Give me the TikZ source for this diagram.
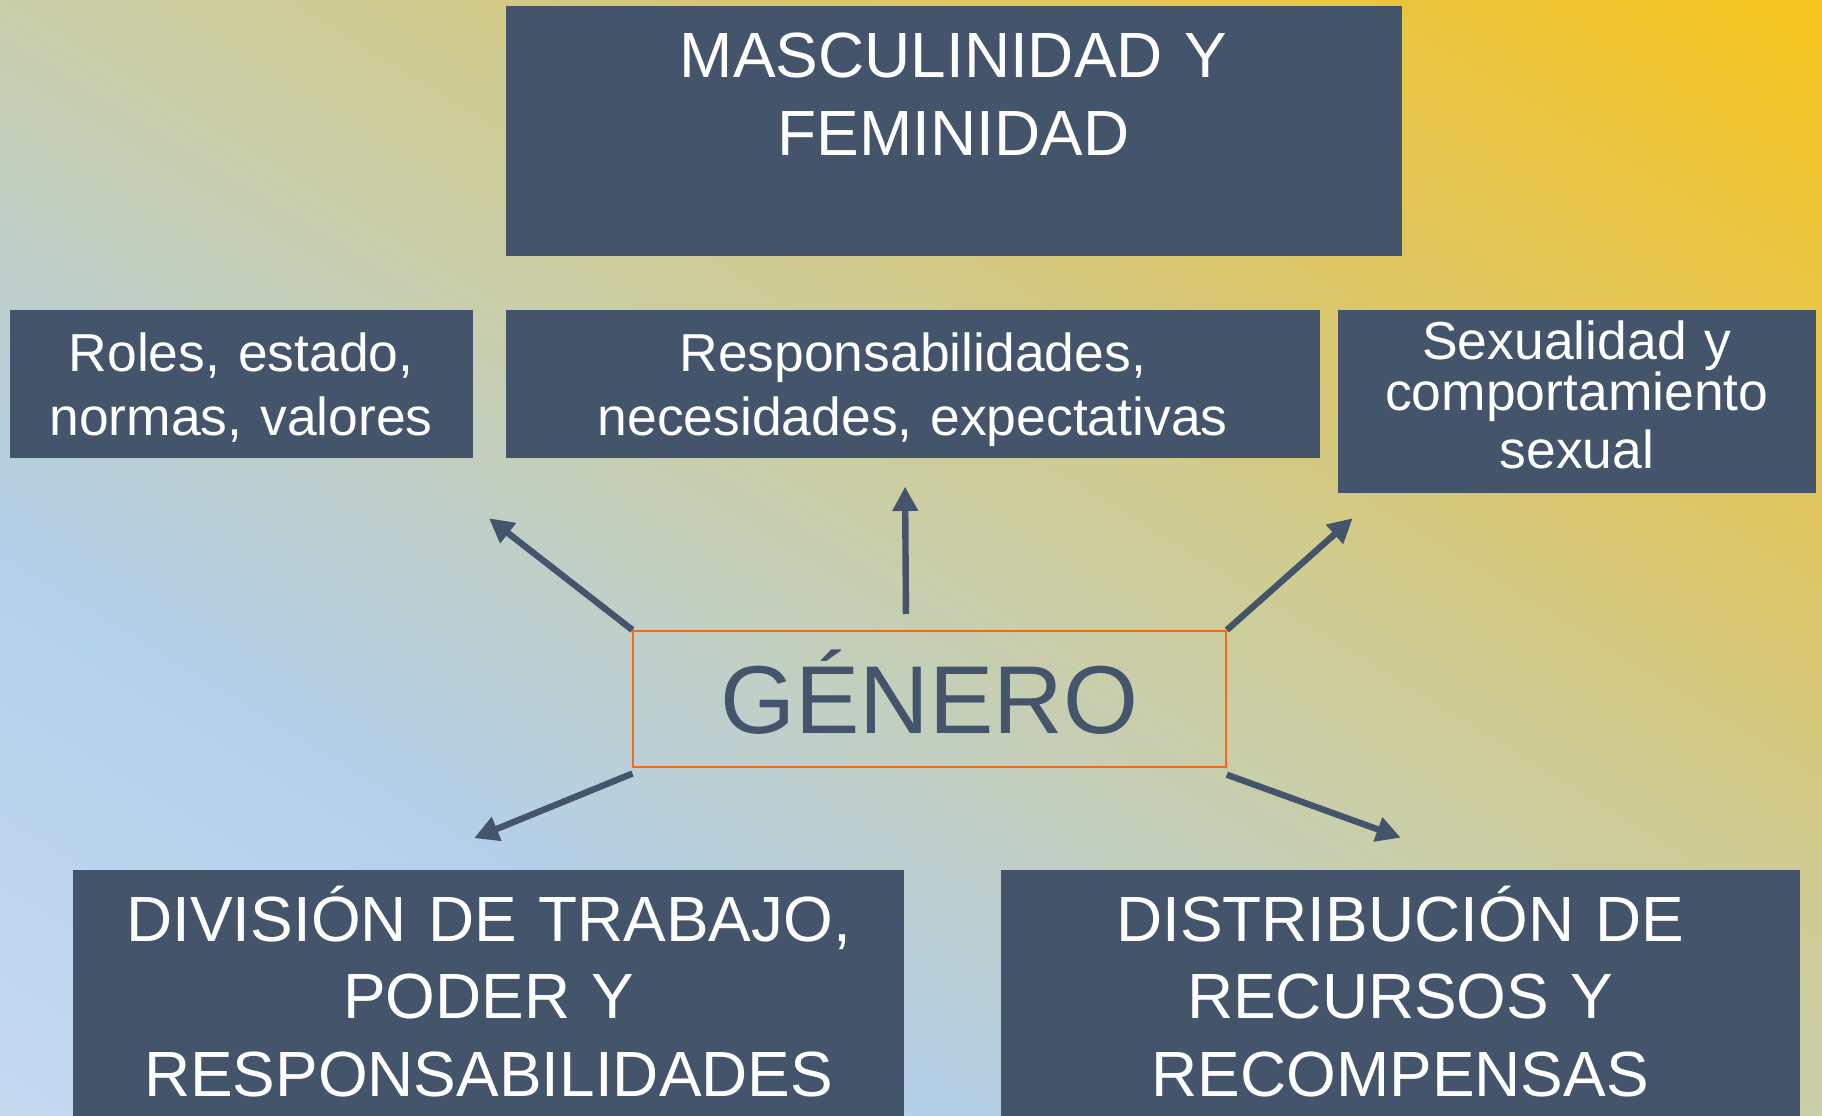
\documentclass[tikz,border=0pt]{standalone}
\usepackage{fontspec}
\setmainfont{Liberation Sans}
\usetikzlibrary{arrows.meta}
\definecolor{boxc}{HTML}{44546A}
\definecolor{orng}{HTML}{F26B16}
\definecolor{bgA}{HTML}{C6DAF0}
\definecolor{bgB}{HTML}{B3D0EA}
\definecolor{bgC}{HTML}{BECFCC}
\definecolor{bgD}{HTML}{C9CEAA}
\definecolor{bgE}{HTML}{D0CB8F}
\definecolor{bgF}{HTML}{DEC664}
\definecolor{bgG}{HTML}{F5C31A}
% background strips between two colours along the gradient axis
\newcommand\bgseg[4]{%
  \foreach \k in {0,...,23}{%
    \pgfmathsetmacro\pa{#1+(#2-#1)*\k/24}%
    \pgfmathsetmacro\pb{#1+(#2-#1)*(\k+1)/24+0.8}%
    \pgfmathsetmacro\mx{100-100*(\k+0.5)/24}%
    \fill[#3!\mx!#4] (\pa,-2500) rectangle (\pb,2500);
  }%
}
\tikzset{
  box/.style={fill=boxc, draw=none, inner sep=0pt, anchor=north west},
  wtxt/.style={text=white, inner sep=0pt, anchor=base, align=center},
  fbig/.style={font=\fontsize{55}{66.5}\selectfont},
  fmid/.style={font=\fontsize{46}{55.7}\selectfont},
  arr/.style={draw=boxc, line width=5.5pt, -{Triangle[length=21pt,width=21pt]}},
}
\begin{document}
\begin{tikzpicture}[x=1pt,y=-1pt]
\useasboundingbox (0,0) rectangle (1568,960);
\begin{scope}
\clip (0,0) rectangle (1568,960);
\begin{scope}[shift={(0,960)}, rotate=58.52]
  \fill[bgA] (-300,-2500) rectangle (0.5,2500);
  \bgseg{0}{409}{bgA}{bgB}
  \bgseg{409}{620}{bgB}{bgC}
  \bgseg{620}{819}{bgC}{bgD}
  \bgseg{819}{1000}{bgD}{bgE}
  \bgseg{1000}{1227}{bgE}{bgF}
  \bgseg{1227}{1640}{bgF}{bgG}
  \fill[bgG] (1640,-2500) rectangle (1900,2500);
\end{scope}

% boxes
\node[box, minimum width=771pt, minimum height=215pt] (topbox) at (435,5) {};
\node[box, minimum width=399pt, minimum height=127pt] (roles) at (8,267) {};
\node[box, minimum width=701pt, minimum height=127pt] (resp) at (435,267) {};
\node[box, minimum width=412pt, minimum height=157pt] (sex) at (1151,267) {};
\node[box, minimum width=715pt, minimum height=260pt] (div) at (63,748.5) {};
\node[box, minimum width=688pt, minimum height=260pt] (dist) at (861,748.5) {};
\node[draw=orng, line width=1.5pt, inner sep=0pt, anchor=north west,
      minimum width=510pt, minimum height=117pt] (gen) at (544.3,542.2) {};

% texts
\node[wtxt, fbig, text width=771pt] (toptxt) at (820.5,67) {MASCULINIDAD Y\\FEMINIDAD};
\node[wtxt, fmid, text width=399pt] (rolestxt) at (207.5,319.3) {Roles, estado,\\normas, valores};
\node[wtxt, fmid, text width=701pt] (resptxt) at (785.5,319.3) {Responsabilidades,\\necesidades, expectativas};
\node[wtxt, text width=412pt, font=\fontsize{46}{50.5}\selectfont] (sextxt) at (1357,309) {Sexualidad y\\[-6.5pt]comportamiento\\sexual};
\node[wtxt, fbig, text width=715pt] (divtxt) at (420.5,810.4) {DIVISIÓN DE TRABAJO,\\PODER Y\\RESPONSABILIDADES};
\node[wtxt, fbig, text width=688pt] (disttxt) at (1205,810.4) {DISTRIBUCIÓN DE\\RECURSOS Y\\RECOMPENSAS};
\node[inner sep=0pt, anchor=base, text=boxc, font=\fontsize{83}{90}\selectfont] (gentxt) at (800,631) {GÉNERO};

% arrows
\coordinate (ulTip) at (420.8,446);
\coordinate (upTip) at (778.9,418.8);
\coordinate (urTip) at (1164.1,446);
\coordinate (llTip) at (408,721.3);
\coordinate (lrTip) at (1205.5,720.9);
\draw[arr] (gen.north west) -- (ulTip);
\draw[arr] ([xshift=-20.4pt,yshift=13.8pt]gen.north) -- (upTip);
\draw[arr] (gen.north east) -- (urTip);
\draw[arr] ([yshift=-5pt]gen.south west) -- (llTip);
\draw[arr] ([yshift=-6pt]gen.south east) -- (lrTip);
\end{scope}
\end{tikzpicture}
\end{document}
